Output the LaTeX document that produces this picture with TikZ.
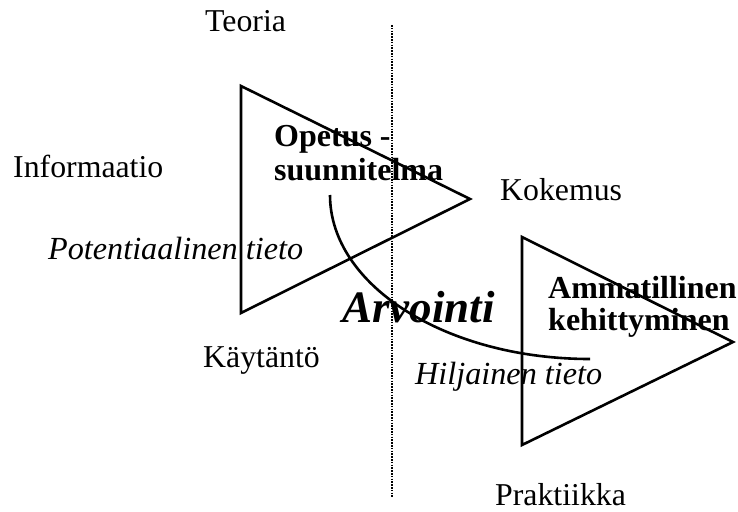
\documentclass[tikz,border=0pt]{standalone}
\usepackage{fontspec}
\setmainfont{Liberation Serif}
\begin{document}
\begin{tikzpicture}[x=1pt,y=-1pt,
  lbl/.style={anchor=base west,inner sep=0pt,font=\fontsize{31.8}{34}\selectfont},
  lblit/.style={lbl,font=\fontsize{32.2}{34}\selectfont\itshape},
  lblbf/.style={lbl,font=\fontsize{32}{33}\selectfont\bfseries,align=left},
  tri/.style={line width=2.6pt,line join=miter},
  divider/.style={line width=2.3pt,dash pattern=on 1.6pt off 1.2pt}]
\useasboundingbox (0,0) rectangle (738,511);
% dotted divider
\coordinate (dtop) at (392,25);
\coordinate (dbot) at (392,498);
\draw[divider] (dtop) -- (dbot);
% triangles
\coordinate (a1) at (241,86);
\coordinate (a2) at (470,199);
\coordinate (a3) at (241,313);
\draw[tri] (a1) -- (a2) -- (a3) -- cycle;
\coordinate (b1) at (522,237);
\coordinate (b2) at (733,342);
\coordinate (b3) at (522,445);
\draw[tri] (b1) -- (b2) -- (b3) -- cycle;
% arc
\coordinate (arcstart) at (330,195);
\draw[line width=2.6pt] (arcstart) arc[start angle=180,end angle=270,x radius=260pt,y radius=164pt];
% labels
\node[lbl] (teoria) at (205,32) {Teoria};
\node[lbl] (info) at (13,177) {Informaatio};
\node[lblit] (pot) at (48,259) {Potentiaalinen tieto};
\node[lbl] (kayt) at (203,367) {Käytäntö};
\node[lbl] (kok) at (500,200) {Kokemus};
\node[lbl] (prak) at (495,505) {Praktiikka};
\node[lblbf,anchor=base west] (ops1) at (274,146) {Opetus -};
\node[lblbf,anchor=base west] (ops2) at (274,180) {suunnitelma};
\node[lbl,font=\fontsize{45}{48}\selectfont\bfseries\itshape] (arv) at (342,322) {Arvointi};
\node[lblbf,anchor=base west] (amm1) at (548,298) {Ammatillinen};
\node[lblbf,anchor=base west] (amm2) at (548,330) {kehittyminen};
\node[lblit] (hil) at (415,384) {Hiljainen tieto};
\end{tikzpicture}
\end{document}
